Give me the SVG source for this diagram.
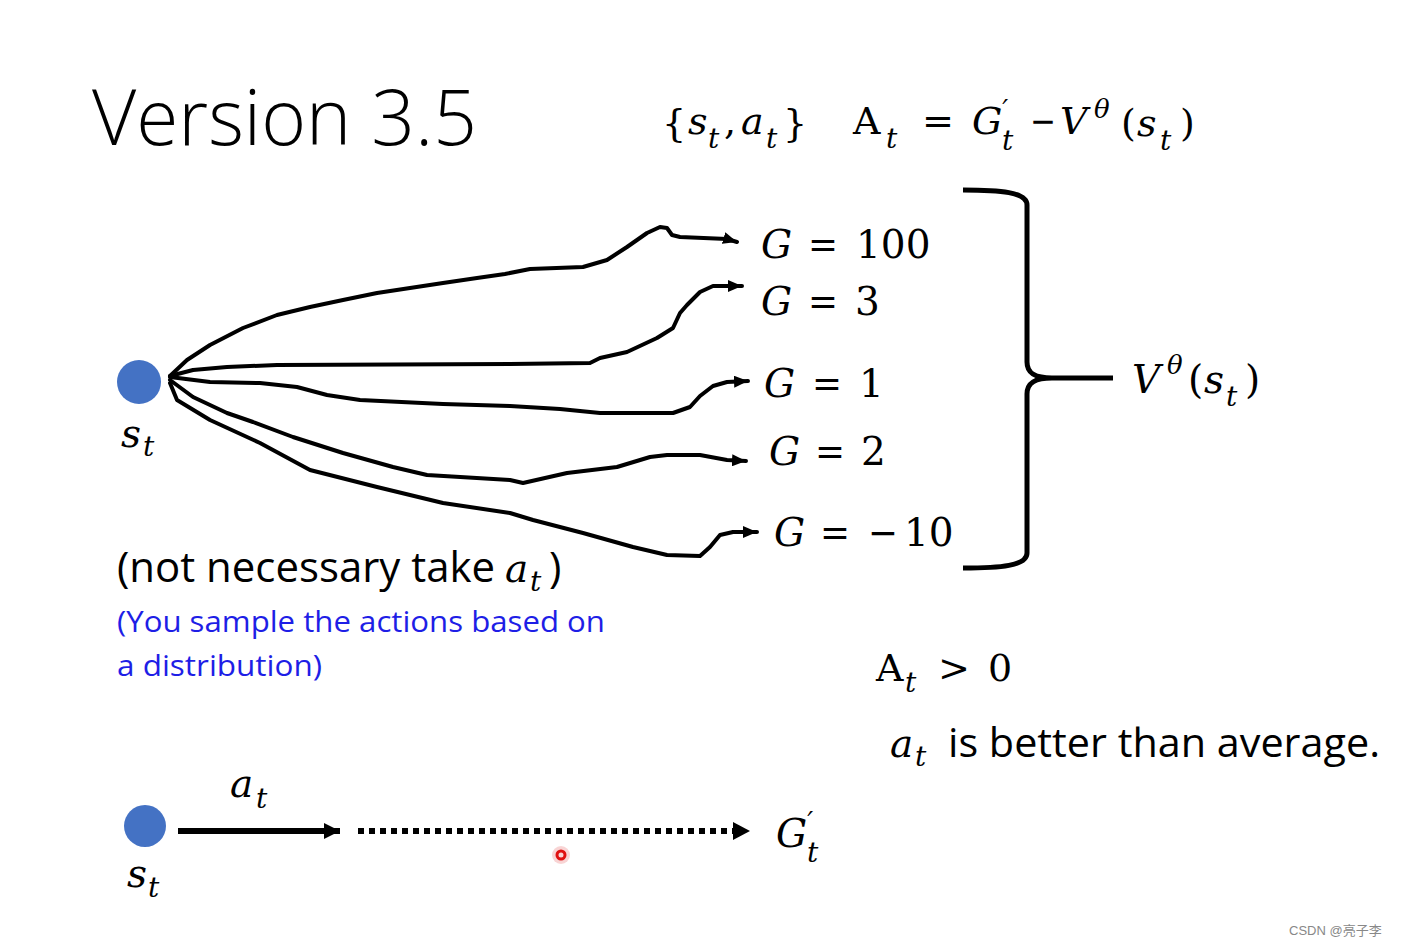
<svg xmlns="http://www.w3.org/2000/svg" width="1404" height="948" viewBox="0 0 1404 948">
<defs>
<style>
.m{font-family:"DejaVu Serif","Liberation Serif",serif;font-style:italic;fill:#000}
.u{font-family:"DejaVu Serif","Liberation Serif",serif;font-style:normal;fill:#000}
.s{font-family:"Open Sans","Noto Sans","Liberation Sans",sans-serif;fill:#000}
.blue{fill:#1e1ee6}
.curve{fill:none;stroke:#000;stroke-width:4;stroke-linejoin:round;stroke-linecap:round}
.thick{fill:none;stroke:#000;stroke-width:6}
.brace{fill:none;stroke:#000;stroke-width:5;stroke-linejoin:round;stroke-linecap:butt}
.dot{fill:#4472c4}
</style>
<marker id="ah" markerUnits="userSpaceOnUse" markerWidth="16" markerHeight="12" refX="14" refY="6" orient="auto">
<path d="M0,0 L14,6 L0,12 z" fill="#000"/>
</marker>
<marker id="ah2" markerUnits="userSpaceOnUse" markerWidth="18" markerHeight="18" refX="16" refY="9" orient="auto">
<path d="M0,1 L16,9 L0,17 z" fill="#000"/>
</marker>
</defs>
<rect width="1404" height="948" fill="#fff"/>

<g id="title">
<text class="s" x="92" y="145" font-size="77" font-weight="300" textLength="385" lengthAdjust="spacingAndGlyphs">Version 3.5</text>
</g>

<g id="formula">
<text class="u" x="662" y="136" font-size="38">{</text>
<text class="m" x="688" y="134" font-size="38">s</text>
<text class="m" x="708" y="148" font-size="28">t</text>
<text class="u" x="724" y="134" font-size="38">,</text>
<text class="m" x="741" y="134" font-size="38">a</text>
<text class="m" x="766" y="148" font-size="28">t</text>
<text class="u" x="783" y="136" font-size="38">}</text>
<text class="u" x="853" y="134" font-size="38">A</text>
<text class="m" x="886" y="148" font-size="28">t</text>
<text class="u" x="922" y="134" font-size="38" textLength="32" lengthAdjust="spacingAndGlyphs">=</text>
<text class="m" x="972" y="134" font-size="38">G<tspan font-size="26" dy="-16">′</tspan></text>
<text class="m" x="1002" y="150" font-size="28">t</text>
<text class="u" x="1030" y="134" font-size="38" textLength="26" lengthAdjust="spacingAndGlyphs">−</text>
<text class="m" x="1060" y="134" font-size="38">V</text>
<text class="m" x="1094" y="118" font-size="26">θ</text>
<text class="u" x="1121" y="136" font-size="38">(</text>
<text class="m" x="1137" y="136" font-size="38">s</text>
<text class="m" x="1160" y="150" font-size="28">t</text>
<text class="u" x="1180" y="136" font-size="38">)</text>
</g>

<g id="state-top">
<circle class="dot" cx="139" cy="382" r="22"/>
<text class="m" x="121" y="447" font-size="39">s</text>
<text class="m" x="143" y="456" font-size="28">t</text>
</g>

<g id="connectors">
<path class="curve" marker-end="url(#ah)" d="M170,376 L187,360 L210,345 L243,328 L277,315 L310,307 L343,300 L377,293 L410,288 L443,283 L477,278 L505,274 L530,269 L583,267 L607,260 L627,247 L647,233 L660,227 L667,228 L672,235 L680,237 L727,239 L737,242"/>
<path class="curve" marker-end="url(#ah)" d="M170,376 L193,370 L227,367 L277,365 L510,364 L590,363 L600,358 L627,352 L657,338 L673,328 L680,313 L687,305 L700,292 L713,286 L742,286"/>
<path class="curve" marker-end="url(#ah)" d="M170,377 L210,382 L260,383 L297,387 L327,395 L360,400 L443,404 L510,406 L560,409 L600,413 L673,413 L690,407 L700,396 L713,386 L727,382 L748,381"/>
<path class="curve" marker-end="url(#ah)" d="M170,380 L193,397 L227,413 L253,422 L293,437 L343,453 L393,467 L427,475 L510,480 L523,483 L567,473 L617,467 L650,457 L667,455 L700,455 L727,460 L746,461"/>
<path class="curve" marker-end="url(#ah)" d="M170,383 L177,400 L210,420 L260,443 L310,470 L377,487 L443,503 L510,513 L533,520 L583,533 L633,547 L667,555 L700,556 L710,547 L720,535 L733,532 L757,532"/>
<path class="thick" marker-end="url(#ah2)" d="M178,831 L340,831"/>
<path class="thick" stroke-dasharray="6 5" d="M358,831 L735,831"/>
<path d="M733,822 L750,831 L733,840 z" fill="#000"/>
</g>

<g id="g100">
<text class="m" x="761" y="258" font-size="39">G</text>
<text class="u" x="808" y="258" font-size="39" textLength="30" lengthAdjust="spacingAndGlyphs">=</text>
<text class="u" x="856" y="258" font-size="39">100</text>
</g>
<g id="g3">
<text class="m" x="761" y="315" font-size="39">G</text>
<text class="u" x="808" y="315" font-size="39" textLength="30" lengthAdjust="spacingAndGlyphs">=</text>
<text class="u" x="855" y="315" font-size="39">3</text>
</g>
<g id="g1">
<text class="m" x="764" y="397" font-size="39">G</text>
<text class="u" x="812" y="397" font-size="39" textLength="30" lengthAdjust="spacingAndGlyphs">=</text>
<text class="u" x="859" y="397" font-size="39">1</text>
</g>
<g id="g2">
<text class="m" x="769" y="465" font-size="39">G</text>
<text class="u" x="815" y="465" font-size="39" textLength="30" lengthAdjust="spacingAndGlyphs">=</text>
<text class="u" x="861" y="465" font-size="39">2</text>
</g>
<g id="gm10">
<text class="m" x="774" y="546" font-size="39">G</text>
<text class="u" x="820" y="546" font-size="39" textLength="30" lengthAdjust="spacingAndGlyphs">=</text>
<text class="u" x="868" y="546" font-size="39" textLength="30" lengthAdjust="spacingAndGlyphs">−</text>
<text class="u" x="904" y="546" font-size="39">10</text>
</g>

<g id="brace">
<path class="brace" d="M963,190 C1000,190 1027,192 1027,205 L1027,362 C1027,374 1036,378 1052,378 L1113,378 M1052,378 C1036,378 1027,382 1027,394 L1027,553 C1027,566 1000,568 963,568"/>
</g>

<g id="value">
<text class="m" x="1132" y="393" font-size="39">V</text>
<text class="m" x="1167" y="374" font-size="26">θ</text>
<text class="u" x="1188" y="393" font-size="39">(</text>
<text class="m" x="1204" y="393" font-size="39">s</text>
<text class="m" x="1226" y="406" font-size="28">t</text>
<text class="u" x="1245" y="393" font-size="39">)</text>
</g>

<g id="note">
<text class="s" x="117" y="582" font-size="42" textLength="378" lengthAdjust="spacingAndGlyphs">(not necessary take</text>
<text class="m" x="505" y="582" font-size="39">a</text>
<text class="m" x="530" y="591" font-size="28">t</text>
<text class="s" x="549" y="582" font-size="42">)</text>
<text class="s blue" x="117" y="632" font-size="29" textLength="488" lengthAdjust="spacingAndGlyphs">(You sample the actions based on</text>
<text class="s blue" x="117" y="676" font-size="29" textLength="205" lengthAdjust="spacingAndGlyphs">a distribution)</text>
</g>

<g id="advantage">
<text class="u" x="876" y="681" font-size="38">A</text>
<text class="m" x="905" y="692" font-size="28">t</text>
<text class="u" x="938" y="681" font-size="38" textLength="32" lengthAdjust="spacingAndGlyphs">&gt;</text>
<text class="u" x="988" y="681" font-size="38">0</text>
<text class="m" x="890" y="757" font-size="39">a</text>
<text class="m" x="915" y="766" font-size="28">t</text>
<text class="s" x="948" y="757" font-size="40" textLength="432" lengthAdjust="spacingAndGlyphs">is better than average.</text>
</g>

<g id="state-bottom">
<circle class="dot" cx="145" cy="826" r="21"/>
<text class="m" x="127" y="887" font-size="39">s</text>
<text class="m" x="148" y="897" font-size="28">t</text>
</g>

<g id="action-label">
<text class="m" x="230" y="797" font-size="39">a</text>
<text class="m" x="256" y="808" font-size="28">t</text>
</g>

<g id="return">
<text class="m" x="776" y="847" font-size="39">G<tspan font-size="26" dy="-17">′</tspan></text>
<text class="m" x="807" y="862" font-size="28">t</text>
</g>

<g id="cursor">
<circle cx="561" cy="855" r="9" fill="#f6c9c9" opacity="0.8"/>
<circle cx="561" cy="855" r="4" fill="none" stroke="#e01010" stroke-width="3"/>
</g>

<g id="watermark">
<text x="1289" y="935" font-size="13" fill="#888" font-family="Liberation Sans, Noto Sans CJK SC, sans-serif">CSDN @亮子李</text>
</g>
</svg>
